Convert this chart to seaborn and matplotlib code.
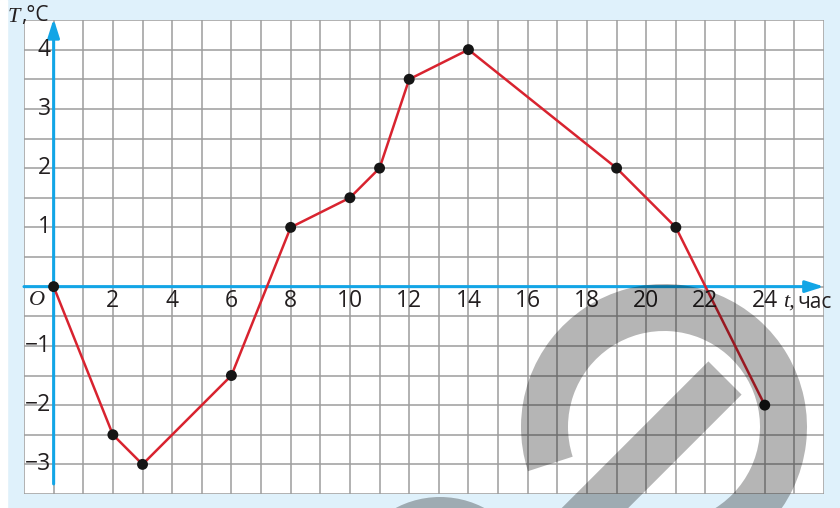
"""Temperature over a day: piecewise line on a squared grid."""

import matplotlib.pyplot as plt
import matplotlib.patches as mpatches
import matplotlib.transforms as mtransforms
import numpy as np
import seaborn as sns

# hours and temperatures
hours = [0, 2, 3, 6, 8, 10, 11, 12, 14, 19, 21, 24]
temps = [0, -2.5, -3, -1.5, 1, 1.5, 2, 3.5, 4, 2, 1, -2]

x_ticks = [2, 4, 6, 8, 10, 12, 14, 16, 18, 20, 22, 24]
y_ticks = [-3, -2, -1, 1, 2, 3, 4]

W, H = 840, 508
BG = '#dff1fb'
AXIS = '#12a5e6'
RED = '#d8232f'
GRID = '#9d9d9d'
INK = '#231f20'

sns.set_style("white")
plt.rcParams['font.family'] = ['Open Sans', 'DejaVu Sans']

fig = plt.figure(figsize=(W / 100, H / 100), dpi=100, facecolor=BG)
# thin white strip on the left edge
fig.patches.append(mpatches.Rectangle((0, 0), 7 / W, 1, transform=fig.transFigure,
                                      color='white', zorder=0))

ax = fig.add_axes([24 / W, 14 / H, 800 / W, 474 / H])
ax.set_facecolor('white')
ax.set_xlim(-1, 26)
ax.set_ylim(-3.5, 4.5)

# squared paper
for gx in np.arange(-1, 27, 1):
    ax.axvline(gx, color=GRID, lw=1.1, zorder=1)
for gy in np.arange(-3.5, 4.75, 0.5):
    ax.axhline(gy, color=GRID, lw=1.1, zorder=1)
for s in ax.spines.values():
    s.set_visible(False)
ax.set_xticks([])
ax.set_yticks([])

# coordinate axes with arrows
arrow = dict(arrowstyle='-|>,head_length=1.1,head_width=0.35',
             color=AXIS, lw=2.2, shrinkA=0, shrinkB=0)
ax.annotate('', xy=(26, 0), xytext=(-1, 0), arrowprops=arrow,
            zorder=3, annotation_clip=False)
ax.annotate('', xy=(0, 4.52), xytext=(0, -3.33), arrowprops=arrow,
            zorder=3, annotation_clip=False)

# data
sns.lineplot(x=hours, y=temps, ax=ax, color=RED, lw=1.8, zorder=4, sort=False)
sns.scatterplot(x=hours, y=temps, ax=ax, color='#151515', s=62, edgecolor='none',
                zorder=5)

# tick labels
for t in x_ticks:
    ax.text(t, -0.25, str(t), ha='center', va='center', fontsize=16.5,
            color=INK, zorder=6)
for t in y_ticks:
    ax.text(-0.1, t, str(t).replace('-', '\u2212'), ha='right', va='center',
            fontsize=16.5, color=INK, zorder=6)

ax.text(-0.55, -0.24, 'O', ha='center', va='center', fontsize=16, style='italic',
        family='Liberation Serif', color=INK)

# axis names
fig.text(8 / W, 1 - 17 / H, 'T', ha='left', va='center', fontsize=16,
         style='italic', family='Liberation Serif', color=INK)
fig.text(21 / W, 1 - 16 / H, ',°C', ha='left', va='center', fontsize=15,
         color=INK)
fig.text(783 / W, 1 - 302 / H, 't,', ha='left', va='center', fontsize=16,
         style='italic', family='Liberation Serif', color=INK)
fig.text(797 / W, 1 - 303 / H, 'час', ha='left', va='center', fontsize=15,
         color=INK)

# grey watermark (pixel coordinates, y from the top)
ident = mtransforms.IdentityTransform()
wm = dict(facecolor='black', alpha=0.29, edgecolor='none', zorder=10,
          transform=ident)
fig.patches.append(mpatches.Wedge((664, H - 427), 143, -100, 198, width=47, **wm))
d = np.array([-1, 1]) / np.sqrt(2)
p = np.array([1, 1]) / np.sqrt(2) * 23.5
top = np.array([725, 378])
bot = top + d * 260
poly = np.array([top - p, top + p, bot + p, bot - p])
poly[:, 1] = H - poly[:, 1]
fig.patches.append(mpatches.Polygon(poly, closed=True, **wm))
fig.patches.append(mpatches.Wedge((440, H - 592), 95, 20, 160, width=47, **wm))

fig.savefig('out.png', dpi=100, facecolor=BG)
